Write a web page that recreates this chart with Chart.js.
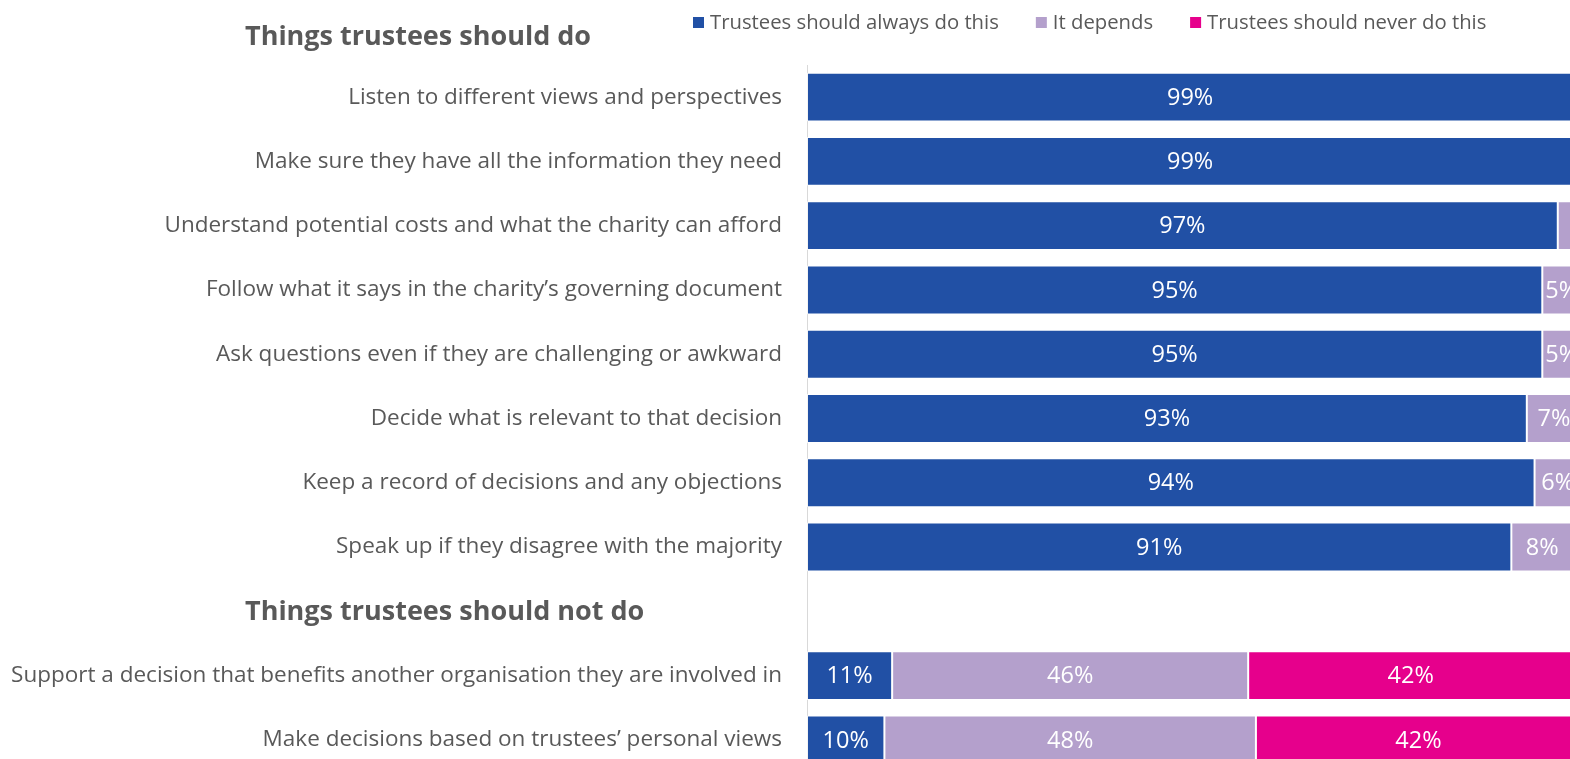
<!DOCTYPE html>
<html>
<head>
<meta charset="utf-8">
<script src="https://cdn.jsdelivr.net/npm/chart.js@4.4.1/dist/chart.umd.min.js"></script>
<style>
  html, body { margin: 0; padding: 0; background: #fff; overflow: hidden; }
  #wrap { width: 1570px; height: 759px; overflow: hidden; position: relative; }
  #trusteeChart { position: absolute; left: 0; top: 0; }
</style>
</head>
<body>
<div id="wrap"><canvas id="trusteeChart" width="1581" height="772"></canvas></div>
<script>
const FONT = "'Open Sans', 'Noto Sans', sans-serif";
const TEXT = '#595959';

// rows; the empty slot holds the second section heading
const categories = [
  'Listen to different views and perspectives',
  'Make sure they have all the information they need',
  'Understand potential costs and what the charity can afford',
  'Follow what it says in the charity\u2019s governing document',
  'Ask questions even if they are challenging or awkward',
  'Decide what is relevant to that decision',
  'Keep a record of decisions and any objections',
  'Speak up if they disagree with the majority',
  '',
  'Support a decision that benefits another organisation they are involved in',
  'Make decisions based on trustees\u2019 personal views'
];
const sectionTitles = ['Things trustees should do', 'Things trustees should not do'];
const sectionSlot = 8;

const alwaysDo = [99, 99, 97, 95, 95, 93, 94, 91, null, 11, 10];
const itDepends = [1, 1, 3, 5, 5, 7, 6, 8, null, 46, 48];
const neverDo = [0, 0, 0, 0, 0, 0, 0, 1, null, 42, 42];

const seriesNames = ['Trustees should always do this', 'It depends', 'Trustees should never do this'];
const seriesColors = ['#2150A5', '#B4A0CC', '#E6008C'];

// percentage labels in the middle of each segment
const segmentLabels = {
  id: 'segmentLabels',
  afterDatasetsDraw(chart) {
    const ctx = chart.ctx;
    ctx.save();
    ctx.font = '23.5px ' + FONT;
    ctx.fillStyle = '#fff';
    ctx.textAlign = 'center';
    ctx.textBaseline = 'middle';
    chart.data.datasets.forEach((ds, i) => {
      chart.getDatasetMeta(i).data.forEach((bar, j) => {
        const v = ds.data[j];
        if (v == null || v < 4) return;
        ctx.fillText(v + '%', (bar.x + bar.base) / 2, bar.y + 1);
      });
    });
    ctx.restore();
  }
};

// section headings and the legend row
const extras = {
  id: 'extras',
  afterDraw(chart) {
    const ctx = chart.ctx;
    const y = chart.scales.y;
    ctx.save();
    ctx.fillStyle = TEXT;
    ctx.font = 'bold 27px ' + FONT;
    ctx.textBaseline = 'middle';
    ctx.textAlign = 'left';
    ctx.fillText(sectionTitles[0], 245, 37);
    ctx.fillText(sectionTitles[1], 245, y.getPixelForValue(sectionSlot) + 1);

    ctx.font = '20.3px ' + FONT;
    let x = 693;
    seriesNames.forEach((name, i) => {
      ctx.fillStyle = seriesColors[i];
      ctx.fillRect(x, 17, 11, 11);
      ctx.fillStyle = TEXT;
      ctx.fillText(name, x + 17, 23);
      x += 17 + ctx.measureText(name).width + 37;
    });
    ctx.restore();
  }
};

new Chart(document.getElementById('trusteeChart'), {
  type: 'bar',
  data: {
    labels: categories,
    datasets: seriesNames.map((name, i) => ({
      label: name,
      data: [alwaysDo, itDepends, neverDo][i],
      backgroundColor: seriesColors[i],
      borderColor: 'rgba(255,255,255,0.7)',
      borderWidth: 1,
      borderSkipped: false,
      barPercentage: 0.76,
      categoryPercentage: 1
    }))
  },
  options: {
    indexAxis: 'y',
    responsive: false,
    animation: false,
    layout: { padding: { top: 65, left: 0, right: 0, bottom: 0 } },
    plugins: {
      legend: { display: false },
      tooltip: { enabled: false }
    },
    scales: {
      x: { stacked: true, min: 0, max: 100, display: false },
      y: {
        stacked: true,
        afterFit: s => {
          s.width = 807;
          s.paddingTop = 0;
          s.paddingBottom = 0;
        },
        grid: { display: false },
        border: { display: true, color: '#D9D9D9', width: 1 },
        ticks: {
          padding: 17,
          color: TEXT,
          font: { family: FONT, size: 22.5 }
        }
      }
    }
  },
  plugins: [segmentLabels, extras]
});
</script>
</body>
</html>
